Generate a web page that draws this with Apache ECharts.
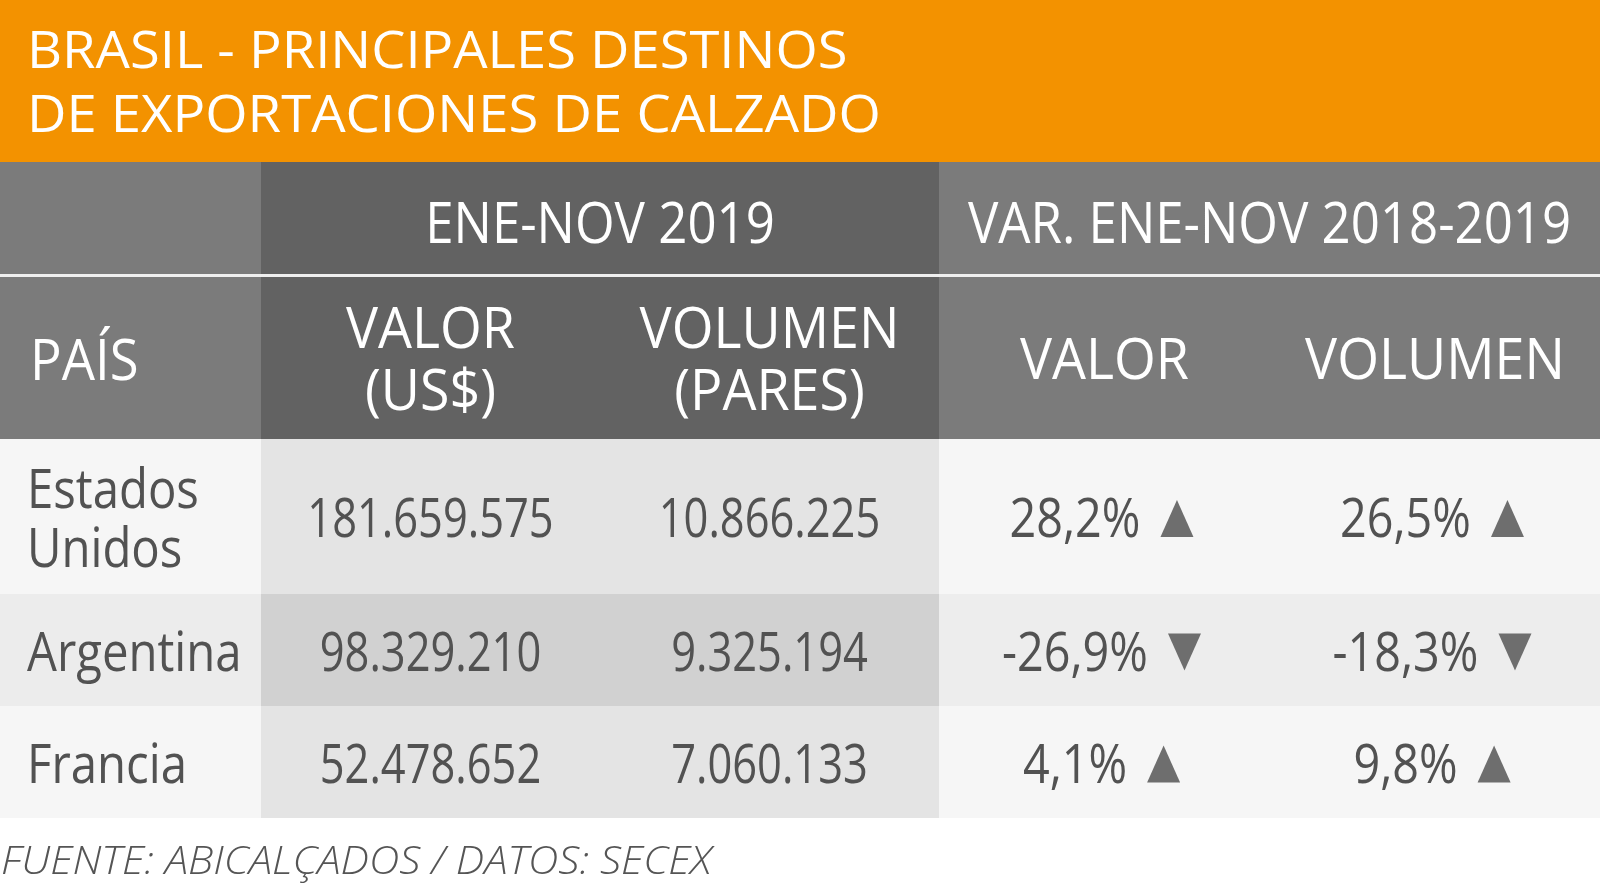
<!DOCTYPE html>
<html><head><meta charset="utf-8">
<script src="https://cdn.jsdelivr.net/npm/echarts@6/dist/echarts.min.js"></script>
<style>html,body{margin:0;padding:0;background:#fff}#chart{width:1600px;height:891px}</style>
</head><body><div id="chart"></div>
<script>
// ---------- data ----------
const titleLines = ['BRASIL - PRINCIPALES DESTINOS', 'DE EXPORTACIONES DE CALZADO'];
const groupHeaders = ['ENE-NOV 2019', 'VAR. ENE-NOV 2018-2019'];
const columnHeaders = ['PAÍS', 'VALOR\n(US$)', 'VOLUMEN\n(PARES)', 'VALOR', 'VOLUMEN'];
const countries = ['Estados\nUnidos', 'Argentina', 'Francia'];
const valorUSD = [181659575, 98329210, 52478652];
const volumenPares = [10866225, 9325194, 7060133];
const varValor = [28.2, -26.9, 4.1];
const varVolumen = [26.5, -18.3, 9.8];
const sourceText = 'FUENTE: ABICALÇADOS / DATOS: SECEX';

// ---------- layout ----------
const colEdges = [0, 261, 600, 939, 1270, 1600];
const rowBands = [[162, 274], [277, 439], [439, 594], [594, 706], [706, 818]];
const FONT = '"Open Sans", "Noto Sans", sans-serif';
const ORANGE = '#f39200';
const headBg = ['#7b7b7b', '#626262', '#626262', '#7b7b7b', '#7b7b7b'];
const bodyBg = [
  ['#f6f6f6', '#e4e4e4', '#e4e4e4', '#f6f6f6', '#f6f6f6'],
  ['#ececec', '#d1d1d1', '#d1d1d1', '#ededed', '#ededed'],
  ['#f6f6f6', '#e4e4e4', '#e4e4e4', '#f6f6f6', '#f6f6f6']
];
const TXT = '#525252';
const TRI = '#6e6e6e';
const BODY_W = 'normal';

function fmtInt(n) { return String(n).replace(/\B(?=(\d{3})+(?!\d))/g, '.'); }
function fmtPct(v) { return v.toFixed(1).replace('.', ',') + '%'; }

const measureCtx = document.createElement('canvas').getContext('2d');
function textWidth(text, size, weight) {
  measureCtx.font = (weight || 'normal') + ' ' + size + 'px ' + FONT;
  return measureCtx.measureText(text).width;
}

const cells = [];
cells.push({c0: 0, c1: 1, b: 0, bg: headBg[0]});
groupHeaders.forEach((t, i) => cells.push({c0: 1 + i * 2, c1: 3 + i * 2, b: 0, bg: headBg[1 + i * 2], text: t, kind: 'group'}));
columnHeaders.forEach((t, i) => cells.push({c0: i, c1: i + 1, b: 1, bg: headBg[i], text: t, kind: i === 0 ? 'headLeft' : 'head'}));
countries.forEach((name, r) => {
  cells.push({c0: 0, c1: 1, b: 2 + r, bg: bodyBg[r][0], text: name, kind: 'country'});
  cells.push({c0: 1, c1: 2, b: 2 + r, bg: bodyBg[r][1], text: fmtInt(valorUSD[r]), kind: 'num'});
  cells.push({c0: 2, c1: 3, b: 2 + r, bg: bodyBg[r][2], text: fmtInt(volumenPares[r]), kind: 'num'});
  cells.push({c0: 3, c1: 4, b: 2 + r, bg: bodyBg[r][3], text: fmtPct(varValor[r]), up: varValor[r] >= 0, kind: 'pct'});
  cells.push({c0: 4, c1: 5, b: 2 + r, bg: bodyBg[r][4], text: fmtPct(varVolumen[r]), up: varVolumen[r] >= 0, kind: 'pct'});
});

function renderItem(params, api) {
  const c = cells[params.dataIndex];
  const p0 = api.coord([colEdges[c.c0], rowBands[c.b][0]]);
  const p1 = api.coord([colEdges[c.c1], rowBands[c.b][1]]);
  const x = p0[0], y = p0[1], w = p1[0] - p0[0], h = p1[1] - p0[1];
  const cx = x + w / 2, cy = y + h / 2;
  const children = [{type: 'rect', shape: {x: x, y: y, width: w, height: h}, style: {fill: c.bg}}];
  if (c.text) {
    if (c.kind === 'group') {
      children.push({type: 'text', x: cx, y: cy + 9, scaleX: 0.91,
        style: {text: c.text, fontFamily: FONT, fontSize: 56, fill: '#fff', align: 'center', verticalAlign: 'middle'}});
    } else if (c.kind === 'head') {
      children.push({type: 'text', x: cx, y: cy + 5, scaleX: 0.96,
        style: {text: c.text, fontFamily: FONT, fontSize: 56, lineHeight: 62, fill: '#fff', align: 'center', verticalAlign: 'middle'}});
    } else if (c.kind === 'headLeft') {
      children.push({type: 'text', x: x + 30, y: cy + 6, scaleX: 0.94,
        style: {text: c.text, fontFamily: FONT, fontSize: 56, fill: '#fff', align: 'left', verticalAlign: 'middle'}});
    } else if (c.kind === 'country') {
      children.push({type: 'text', x: x + 27, y: cy + 5, scaleX: 0.86,
        style: {text: c.text, fontFamily: FONT, fontWeight: BODY_W, fontSize: 55, lineHeight: 59, fill: TXT, align: 'left', verticalAlign: 'middle'}});
    } else if (c.kind === 'num') {
      children.push({type: 'text', x: cx, y: cy + 5, scaleX: 0.79,
        style: {text: c.text, fontFamily: FONT, fontWeight: BODY_W, fontSize: 55, fill: TXT, align: 'center', verticalAlign: 'middle'}});
    } else if (c.kind === 'pct') {
      const sx = 0.85, gap = 20, tw = 33, th = 37;
      const textW = textWidth(c.text, 55, BODY_W) * sx;
      const total = textW + gap + tw;
      const left = cx - 3 - total / 2;
      children.push({type: 'text', x: left, y: cy + 5, scaleX: sx,
        style: {text: c.text, fontFamily: FONT, fontWeight: BODY_W, fontSize: 55, fill: TXT, align: 'left', verticalAlign: 'middle'}});
      const tx = left + textW + gap, ty0 = cy - th / 2 + 2, ty1 = cy + th / 2 + 2;
      const pts = c.up
        ? [[tx, ty1], [tx + tw, ty1], [tx + tw / 2, ty0]]
        : [[tx, ty0], [tx + tw, ty0], [tx + tw / 2, ty1]];
      children.push({type: 'polygon', shape: {points: pts}, style: {fill: TRI}});
    }
  }
  return {type: 'group', children: children};
}

const chart = echarts.init(document.getElementById('chart'), null, {renderer: 'canvas'});
chart.setOption({
  backgroundColor: '#ffffff',
  animation: false,
  grid: {left: 0, right: 0, top: 0, bottom: 0},
  xAxis: {type: 'value', min: 0, max: 1600, show: false},
  yAxis: {type: 'value', min: 0, max: 891, inverse: true, show: false},
  graphic: [
    {type: 'rect', left: 0, top: 0, shape: {width: 1600, height: 162}, style: {fill: ORANGE}, z: -1},
    {type: 'rect', left: 0, top: 274, shape: {width: 1600, height: 3}, style: {fill: '#efefef'}, z: 10},
    {type: 'text', x: 27, y: 53, scaleX: 1.065, style: {text: titleLines[0], fontFamily: FONT, fontSize: 51, fill: '#fff', align: 'left', verticalAlign: 'middle'}, z: 10},
    {type: 'text', x: 27, y: 117, scaleX: 1.067, style: {text: titleLines[1], fontFamily: FONT, fontSize: 51, fill: '#fff', align: 'left', verticalAlign: 'middle'}, z: 10},
    {type: 'text', x: 1, y: 863, scaleX: 1.08, style: {text: sourceText, fontFamily: FONT, fontStyle: 'italic', fontWeight: 300, fontSize: 39, fill: '#555', align: 'left', verticalAlign: 'middle'}, z: 10}
  ],
  series: [{
    type: 'custom',
    coordinateSystem: 'cartesian2d',
    clip: false,
    silent: true,
    renderItem: renderItem,
    data: cells.map((c) => [c.c0, c.b])
  }]
});
</script>
</body></html>
